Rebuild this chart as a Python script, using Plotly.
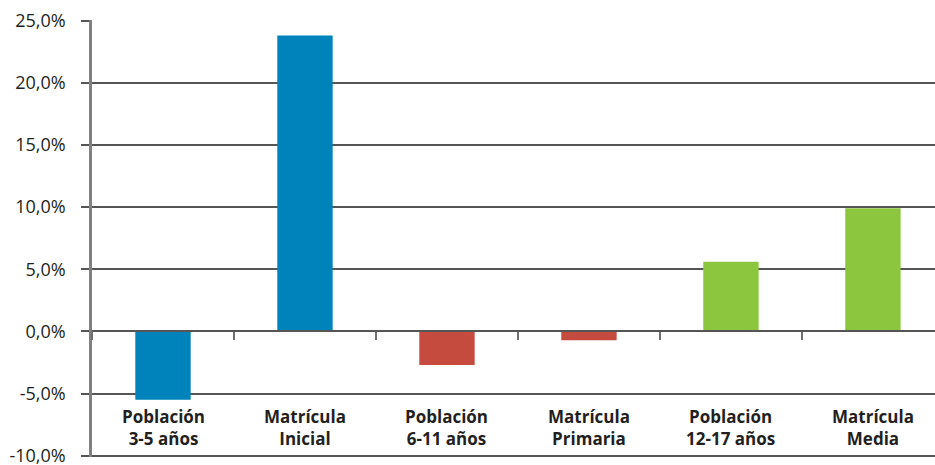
import plotly.graph_objects as go

categories = ["Población<br>3-5 años", "Matrícula<br>Inicial", "Población<br>6-11 años",
              "Matrícula<br>Primaria", "Población<br>12-17 años", "Matrícula<br>Media"]
values = [-5.5, 23.8, -2.7, -0.7, 5.6, 9.9]
colors = ["#0083BA", "#0083BA", "#C54B3F", "#C54B3F", "#8CC63F", "#8CC63F"]
tick_vals = [-10, -5, 0, 5, 10, 15, 20, 25]
tick_text = ["-10,0%", "-5,0%", "0,0%", "5,0%", "10,0%", "15,0%", "20,0%", "25,0%"]
label_y = -7.7

fig = go.Figure()
fig.add_trace(go.Bar(x=categories, y=values, marker=dict(color=colors, line=dict(width=0)),
                     width=0.39, showlegend=False, hoverinfo="skip"))

for c in categories:
    fig.add_annotation(x=c, y=label_y, xref="x", yref="y", text="<b>" + c + "</b>",
                       showarrow=False, font=dict(family="Open Sans", size=17, color="#231F20"),
                       align="center")

fig.update_layout(
    width=935, height=465,
    margin=dict(l=92, r=0, t=20, b=8, autoexpand=False),
    plot_bgcolor="white", paper_bgcolor="white",
    bargap=0.6,
)
fig.update_xaxes(type="category", range=[-0.5, 5.437], showticklabels=False,
                 ticks="outside", tickson="boundaries", ticklen=8, tickwidth=1.5, tickcolor="#6d6e71",
                 showline=True, linecolor="#555555", linewidth=1.5, showgrid=False,
                 anchor="free", position=10.1/35.15, automargin=False)
fig.update_yaxes(range=[-10.1, 25.05], tickvals=tick_vals, ticktext=tick_text,
                 showgrid=True, gridcolor="#555555", gridwidth=1.5,
                 ticks="outside", ticklen=8, tickwidth=1.5, tickcolor="#555555",
                 ticklabelstandoff=12, automargin=False, ticklabeloverflow="allow",
                 showline=True, linecolor="#808080", linewidth=2.5, zeroline=False,
                 tickfont=dict(family="Open Sans", size=18, color="#231F20"))

fig.write_html("out.html", config={"displayModeBar": False},
               post_script="document.body.style.margin='0px';")
